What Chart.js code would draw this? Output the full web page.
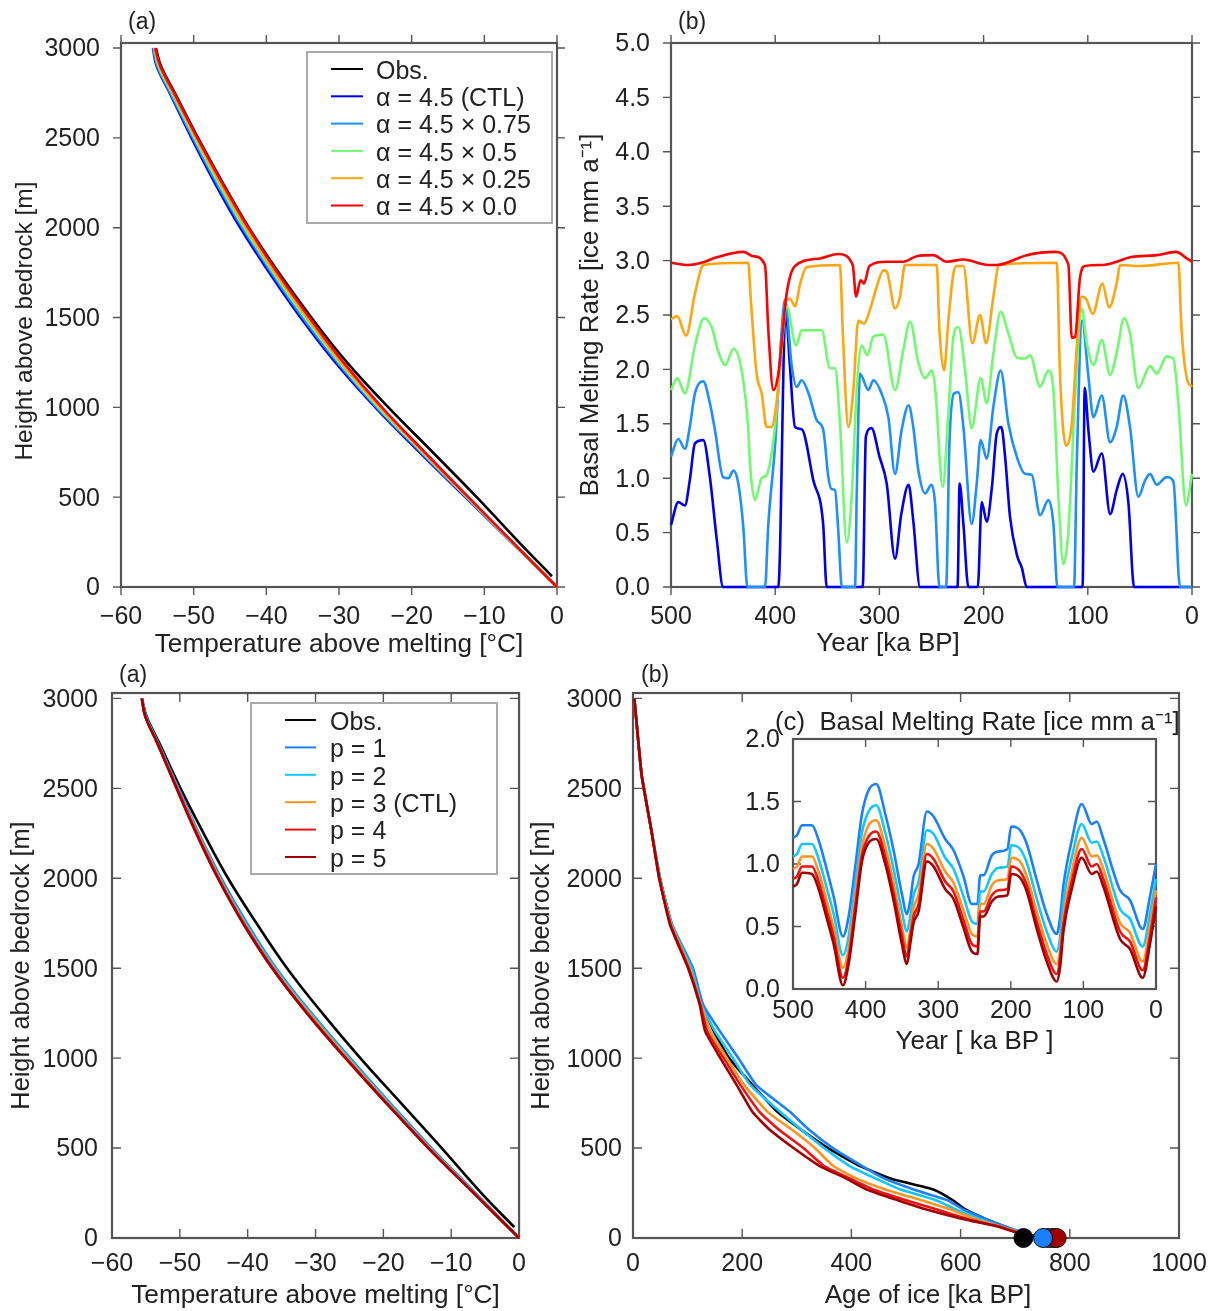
<!DOCTYPE html>
<html>
<head>
<meta charset="utf-8">
<title>Basal melting sensitivity</title>
<script src="https://cdn.jsdelivr.net/npm/chart.js@4"></script>
<style>
  html, body { margin: 0; background: #fff; overflow: hidden; }
  #page { position: relative; width: 1208px; height: 1311px; overflow: hidden; }
  canvas { position: absolute; }
</style>
</head>
<body>
<div id="page"></div>
<script>
// tick values
const tempTicks = [-60, -50, -40, -30, -20, -10, 0];
const heightTicks = [0, 500, 1000, 1500, 2000, 2500, 3000];
const yearTicks = [500, 400, 300, 200, 100, 0];
const rateTicks = [0, 0.5, 1, 1.5, 2, 2.5, 3, 3.5, 4, 4.5, 5];
const insetRateTicks = [0, 0.5, 1, 1.5, 2];
const ageTicks = [0, 200, 400, 600, 800, 1000];

// top left panel: temperature profiles
const heightsA = [0, 250, 500, 750, 1000, 1250, 1500, 1750, 2000, 2250, 2500, 2750, 2900, 3000];
const obsHeights = [60, 250, 500, 750, 1000, 1250, 1500, 1750, 2000, 2250, 2500, 2750, 2900, 3000];
const obsTempA = [-0.7, -5.25, -11.05, -17.1, -23.2, -28.9, -33.8, -38.3, -42.4, -46.0, -49.4, -52.6, -54.5, -55.2];
const tempCtl = [0, -6.3, -12.6, -18.9, -25.0, -30.5, -35.3, -39.6, -43.6, -47.1, -50.3, -53.3, -55.1, -55.6];
const temp075 = [0, -6.25, -12.5, -18.7, -24.8, -30.2, -35.0, -39.3, -43.3, -46.85, -50.1, -53.2, -55.0, -55.55];
const temp050 = [0, -6.2, -12.4, -18.55, -24.6, -29.95, -34.7, -39.05, -43.05, -46.6, -49.9, -53.0, -54.85, -55.45];
const temp025 = [0, -6.15, -12.3, -18.4, -24.35, -29.7, -34.4, -38.8, -42.8, -46.35, -49.7, -52.85, -54.7, -55.4];
const temp000 = [0, -6.1, -12.2, -18.2, -24.1, -29.4, -34.1, -38.5, -42.5, -46.1, -49.5, -52.7, -54.6, -55.3];

const ctlYears = [500, 493, 486.6, 482, 477, 469, 462.7, 456, 450, 397, 390, 386, 381, 374.6, 363.4, 354, 350.6, 316, 313, 307.6, 300, 293, 285, 279, 272, 267.5, 261, 225, 223, 219.4, 214.6, 205.6, 201.8, 197, 192, 187.4, 183, 179.4, 174.6, 167.6, 163.4, 158.6, 105, 103, 99.4, 94.6, 86.6, 78.6, 72.3, 66.5, 61, 55.6, 0];
const ctlRates = [0.57, 0.78, 0.75, 0.98, 1.32, 1.35, 1.01, 0.43, 0, 0, 2.55, 2.05, 1.47, 1.45, 0.98, 0.58, 0, 0, 1.38, 1.46, 1.2, 0.95, 0.26, 0.67, 0.94, 0.61, 0, 0, 0.95, 0.58, 0, 0, 0.78, 0.6, 0.92, 1.41, 1.47, 1.2, 0.64, 0.28, 0.18, 0, 0, 1.83, 1.44, 1.06, 1.23, 0.67, 0.89, 1.04, 0.77, 0, 0];

const a75Years = [500, 493, 486.6, 482, 477, 469, 462.7, 457.8, 450, 445, 440, 435.4, 430.6, 426.7, 409.8, 406.6, 400, 393.8, 390.6, 384, 379.4, 374.6, 368, 360, 353.8, 349, 346, 342.6, 339.5, 336, 323.4, 321.8, 318.6, 310.6, 305.8, 298, 291.4, 285, 278.7, 272, 267.5, 262.6, 256.2, 250, 246.6, 242.4, 236, 232.8, 228.4, 224.2, 219.4, 211.4, 206.6, 202.8, 197, 190.6, 183.6, 176.2, 167.6, 160.2, 153.8, 145.8, 137.8, 133, 129.2, 113.2, 110.6, 105.5, 99.4, 94.6, 86.6, 78.6, 72.3, 66, 59.5, 51.5, 45, 40.3, 33.9, 24.3, 17.9, 11.5, 0];
const a75Rates = [1.2, 1.36, 1.27, 1.47, 1.78, 1.89, 1.69, 1.44, 1.01, 1.0, 1.07, 0.95, 0.55, 0, 0, 0.58, 1.32, 2.36, 2.64, 2.02, 1.84, 1.9, 1.78, 1.53, 1.44, 1.01, 0.9, 0.89, 0.52, 0, 0, 0.83, 1.96, 1.81, 1.9, 1.78, 1.56, 1.04, 1.44, 1.67, 1.47, 1.07, 0.86, 0.94, 0.77, 0, 0, 1.32, 1.78, 1.79, 1.47, 0.58, 0.95, 1.35, 1.18, 1.66, 1.99, 1.5, 1.18, 1.04, 1.03, 0.66, 0.8, 0.58, 0, 0, 1.13, 2.45, 1.93, 1.56, 1.76, 1.33, 1.47, 1.76, 1.47, 0.83, 0.98, 1.04, 0.94, 1.01, 0.97, 0, 0];

const a50Years = [500, 494, 486.6, 477, 468.3, 461, 454.5, 448, 440, 432.2, 425.8, 424.2, 419.4, 413, 408.2, 400.2, 393.8, 389, 380, 374.6, 355.4, 347.4, 342.6, 337.8, 331.4, 326.6, 321.8, 317, 311.6, 305.8, 296.2, 285, 277, 270.6, 262.6, 256.2, 249.8, 246.6, 239.2, 233.8, 229, 224.2, 217.8, 211.4, 202.8, 197, 190.6, 183.6, 176.2, 168.2, 160.2, 155.4, 145.8, 137.8, 133, 128.2, 123.4, 118.6, 112.2, 105.8, 101, 94.6, 86.6, 78.6, 72.3, 65.2, 59.5, 51.5, 40.3, 33.9, 24.3, 17.9, 13.1, 5.7, 0];
const a50Rates = [1.81, 1.92, 1.78, 2.22, 2.47, 2.39, 2.16, 2.04, 2.19, 1.99, 1.44, 1.13, 0.8, 1.0, 1.03, 1.47, 2.2, 2.58, 2.22, 2.36, 2.36, 2.01, 2.01, 1.5, 0.41, 0.83, 1.81, 2.22, 2.13, 2.3, 2.32, 1.81, 2.18, 2.44, 2.06, 1.92, 1.99, 1.84, 0.92, 1.6, 2.3, 2.39, 1.99, 1.46, 1.92, 1.69, 2.15, 2.53, 2.33, 2.11, 2.1, 2.13, 1.84, 1.99, 1.81, 0.83, 0.21, 0.52, 1.75, 2.56, 2.24, 2.04, 2.27, 1.95, 2.15, 2.47, 2.33, 1.83, 2.03, 1.96, 2.12, 2.1, 1.69, 0.75, 1.04];

const a25Years = [500, 494, 485.6, 477, 470.6, 469, 425.8, 423.6, 417.8, 413, 408.2, 403.4, 397, 389.6, 385.8, 381, 376, 369.8, 337.8, 335.2, 329.8, 325, 320.2, 314.8, 309, 302.6, 296.2, 293, 285, 280.2, 275.4, 245, 242.4, 238, 233.8, 229, 225.8, 219.4, 210.8, 203.4, 197.6, 190.6, 185.2, 129.8, 126.6, 120.8, 115.4, 110.6, 105.8, 101.7, 95.3, 86, 79.6, 72.3, 69, 50, 13.1, 10, 5, 0];
const a25Rates = [2.46, 2.49, 2.31, 2.7, 2.94, 2.96, 2.98, 2.67, 1.96, 1.78, 1.47, 1.47, 1.84, 2.64, 2.65, 2.58, 2.79, 2.94, 2.96, 2.36, 1.47, 1.81, 2.45, 2.42, 2.55, 2.76, 2.91, 2.9, 2.56, 2.67, 2.96, 2.96, 2.36, 1.99, 2.45, 2.88, 2.95, 2.95, 2.24, 2.5, 2.24, 2.67, 2.96, 2.98, 1.93, 1.3, 1.5, 2.2, 2.67, 2.65, 2.51, 2.79, 2.57, 2.79, 2.96, 2.95, 2.98, 2.36, 1.92, 1.84];

const a0Years = [500, 483.4, 470.6, 456.2, 430.6, 421, 409.8, 406.6, 401.8, 397, 389, 381, 357, 339.4, 325.6, 322.4, 318, 314.8, 309.6, 293, 277, 264.2, 248.2, 235.4, 219.4, 195.4, 187.4, 158.6, 131.4, 118.6, 115.4, 112.2, 107.4, 102.6, 85, 72.3, 59.5, 33.9, 15.3, 5, 0];
const a0Rates = [2.98, 2.96, 2.98, 3.03, 3.08, 3.04, 2.96, 2.36, 1.81, 1.96, 2.7, 2.95, 3.02, 3.06, 2.96, 2.67, 2.82, 2.79, 2.95, 2.99, 2.99, 3.04, 3.05, 2.99, 3.01, 2.96, 2.96, 3.05, 3.08, 2.96, 2.29, 2.3, 2.85, 2.95, 2.96, 2.99, 3.03, 3.05, 3.08, 3.02, 2.99];

// bottom left panel: temperature profiles for exponent p
const heightsC = [0, 250, 500, 750, 1000, 1250, 1500, 1750, 2000, 2250, 2500, 2750, 2900, 3000];
const obsTempC = [-0.7, -5.55, -11.4, -17.4, -23.4, -29.0, -34.2, -38.7, -42.9, -46.5, -49.9, -53.0, -54.9, -55.6];
const tempP1 = [0, -6.4, -12.9, -19.0, -24.9, -30.6, -35.8, -40.1, -43.9, -47.2, -50.2, -53.2, -55.0, -55.6];
const tempP2 = [0, -6.5, -13.1, -19.2, -25.1, -30.8, -36.0, -40.3, -44.1, -47.3, -50.3, -53.2, -55.0, -55.6];
const tempP3 = [0, -6.6, -13.2, -19.4, -25.3, -31.0, -36.2, -40.5, -44.2, -47.4, -50.4, -53.3, -55.1, -55.6];
const tempP4 = [0, -6.65, -13.3, -19.5, -25.5, -31.2, -36.3, -40.6, -44.3, -47.5, -50.4, -53.3, -55.1, -55.6];
const tempP5 = [0, -6.7, -13.4, -19.6, -25.6, -31.3, -36.4, -40.7, -44.4, -47.6, -50.5, -53.3, -55.1, -55.6];

// bottom right panel: age of ice against height
const heightsD = [3000, 2800, 2570, 2260, 2000, 1740, 1500, 1300, 1150, 1000, 850, 700, 600, 500, 400, 330, 270, 210, 160, 100, 65, 20, 0];
const obsAge = [2.4, 8.5, 16, 34, 49.5, 71, 106, 127, 148, 176, 219, 265, 309, 357, 416, 473, 550, 586, 608, 650, 680, 712, 715];
const ageP1 = [2.4, 8.5, 16, 34, 49.5, 72, 110, 128, 159, 193, 226, 288, 323, 366, 420, 461, 514, 576, 604, 650, 680, 725, 751];
const ageP2 = [2.4, 8.5, 16, 34, 49, 71, 107, 125, 150, 183, 215, 270, 309, 350, 397, 445, 490, 555, 590, 640, 672, 722, 760];
const ageP3 = [2.4, 8.5, 16, 34, 48.5, 70, 104, 124, 142, 172, 204, 247, 292, 333, 367, 410, 462, 528, 580, 632, 672, 720, 768];
const ageP4 = [2.4, 8.5, 16, 34, 48, 69, 102, 123, 136, 166, 197, 232, 268, 312, 350, 398, 440, 500, 555, 620, 669, 717, 772];
const ageP5 = [2.4, 8.5, 16, 34, 48, 68, 101, 122, 132, 160, 190, 219, 251, 294, 342, 391, 428, 485, 536, 612, 666, 715, 776];

// inset: basal melting for exponent p
const insetYears = [500, 494.5, 487.6, 473.9, 464.7, 453.2, 444, 431.2, 423.4, 414.2, 405, 395.9, 385.3, 372.9, 361.5, 350, 343.1, 338.5, 333.9, 327, 315.6, 306.4, 290.4, 278.9, 265.1, 253.7, 245.9, 242.2, 237.6, 226.1, 217, 204.6, 199.5, 187.2, 178, 164.2, 150.5, 136.7, 132, 127.5, 116, 102.3, 88.5, 81.6, 72.5, 49.5, 35.8, 18.3, 8.3, 0];
const meltP1 = [1.21, 1.23, 1.31, 1.31, 1.19, 0.95, 0.74, 0.42, 0.58, 0.98, 1.40, 1.59, 1.64, 1.40, 1.11, 0.76, 0.60, 0.71, 0.90, 1.0, 1.42, 1.38, 1.2, 1.11, 0.90, 0.68, 0.68, 0.91, 0.91, 1.07, 1.10, 1.12, 1.30, 1.27, 1.16, 0.87, 0.60, 0.44, 0.58, 0.83, 1.19, 1.48, 1.32, 1.34, 1.2, 0.79, 0.71, 0.48, 0.74, 1.0];
const meltP2 = [1.06, 1.08, 1.16, 1.16, 1.04, 0.80, 0.60, 0.27, 0.42, 0.84, 1.25, 1.42, 1.47, 1.25, 0.96, 0.62, 0.46, 0.58, 0.75, 0.86, 1.27, 1.24, 1.05, 0.96, 0.74, 0.54, 0.52, 0.78, 0.78, 0.92, 0.97, 0.98, 1.15, 1.12, 1.01, 0.72, 0.46, 0.30, 0.42, 0.70, 1.05, 1.32, 1.17, 1.18, 1.06, 0.64, 0.56, 0.34, 0.6, 0.88];
const meltP3 = [0.96, 0.98, 1.06, 1.06, 0.94, 0.70, 0.49, 0.17, 0.32, 0.74, 1.14, 1.31, 1.35, 1.14, 0.85, 0.50, 0.33, 0.47, 0.65, 0.76, 1.16, 1.12, 0.94, 0.85, 0.63, 0.44, 0.42, 0.68, 0.68, 0.83, 0.87, 0.88, 1.05, 1.02, 0.9, 0.62, 0.36, 0.2, 0.32, 0.58, 0.94, 1.21, 1.06, 1.07, 0.96, 0.53, 0.45, 0.22, 0.5, 0.79];
const meltP4 = [0.88, 0.90, 0.98, 0.98, 0.86, 0.62, 0.42, 0.09, 0.25, 0.66, 1.07, 1.22, 1.26, 1.06, 0.77, 0.43, 0.26, 0.42, 0.58, 0.68, 1.08, 1.04, 0.86, 0.78, 0.55, 0.36, 0.34, 0.62, 0.62, 0.75, 0.79, 0.80, 0.98, 0.94, 0.83, 0.54, 0.28, 0.12, 0.25, 0.52, 0.86, 1.12, 0.98, 1.0, 0.88, 0.46, 0.38, 0.15, 0.42, 0.73];
const meltP5 = [0.82, 0.84, 0.93, 0.92, 0.80, 0.56, 0.36, 0.03, 0.2, 0.6, 1.02, 1.17, 1.2, 1.0, 0.71, 0.36, 0.2, 0.36, 0.53, 0.62, 1.02, 0.98, 0.8, 0.72, 0.49, 0.3, 0.28, 0.58, 0.58, 0.7, 0.74, 0.75, 0.92, 0.89, 0.78, 0.48, 0.22, 0.06, 0.18, 0.46, 0.8, 1.05, 0.92, 0.94, 0.82, 0.4, 0.32, 0.09, 0.36, 0.66];

const alphaLabels = ['Obs.', 'α = 4.5 (CTL)', 'α = 4.5 × 0.75', 'α = 4.5 × 0.5', 'α = 4.5 × 0.25', 'α = 4.5 × 0.0'];
const alphaColors = ['#000000', '#0000f0', '#1e8fff', '#70fa70', '#ffa510', '#ff0000'];
const expLabels = ['Obs.', 'p = 1', 'p = 2', 'p = 3 (CTL)', 'p = 4', 'p = 5'];
const expColors = ['#000000', '#1a80ff', '#10c8ff', '#ff9420', '#f51010', '#a00000'];

Chart.defaults.font.family = '"Liberation Sans", Arial, sans-serif';
Chart.defaults.font.size = 25;
Chart.defaults.color = '#222';
Chart.defaults.animation = false;

// smooth profile: tension, time series: monotone so the zero runs stay flat
const line = (label, color, xs, ys, opts) => Object.assign({
    label: label,
    data: xs.map((x, i) => ({ x: x, y: ys[i] })),
    borderColor: color,
    backgroundColor: color,
    borderWidth: 2.6,
    showLine: true,
    pointRadius: 0,
    clip: false
}, opts);
const curve = { tension: 0.4 };
const bent = { tension: 0.15 };
const series = { cubicInterpolationMode: 'monotone' };

// end of each age curve, shown as a dot on the zero line
const dot = (color, x) => ({
    data: [{ x: x, y: 0 }],
    backgroundColor: color,
    borderColor: '#111',
    borderWidth: 1,
    pointRadius: 9.5,
    showLine: false,
    clip: false
});

// frame, tick marks, free text and boxed legend
const framePlugin = {
    id: 'frame',
    beforeDatasetsDraw(chart, args, opts) {
        const { ctx, chartArea: a, scales: { x, y } } = chart;
        const t = opts.tick;
        ctx.save();
        ctx.strokeStyle = '#555';
        ctx.lineWidth = 2.2;
        ctx.strokeRect(a.left, a.top, a.right - a.left, a.bottom - a.top);
        ctx.lineWidth = 1.4;
        ctx.beginPath();
        x.ticks.forEach(k => {
            const px = x.getPixelForValue(k.value);
            ctx.moveTo(px, a.bottom); ctx.lineTo(px, a.bottom + t);
            ctx.moveTo(px, a.top); ctx.lineTo(px, a.top - t);
        });
        y.ticks.forEach(k => {
            const py = y.getPixelForValue(k.value);
            ctx.moveTo(a.left, py); ctx.lineTo(a.left - t, py);
            ctx.moveTo(a.right, py); ctx.lineTo(a.right + t, py);
        });
        ctx.stroke();
        ctx.restore();
    },
    afterDraw(chart, args, opts) {
        const { ctx } = chart;
        const page = document.getElementById('page').getBoundingClientRect();
        const r = chart.canvas.getBoundingClientRect();
        const dx = r.left - page.left, dy = r.top - page.top;
        ctx.save();
        ctx.textBaseline = 'middle';
        ctx.fillStyle = '#222';
        (opts.notes || []).forEach(n => {
            ctx.save();
            ctx.font = n.size + 'px "Liberation Sans"';
            ctx.textAlign = n.align || 'left';
            ctx.translate(n.x - dx, n.y - dy);
            if (n.upright) ctx.rotate(-Math.PI / 2);
            ctx.fillText(n.text, 0, 0);
            ctx.restore();
        });
        const b = opts.box;
        if (b) {
            const ox = b.x - dx, oy = b.y - dy;
            ctx.fillStyle = '#fff';
            ctx.fillRect(ox, oy, b.w, b.h);
            ctx.strokeStyle = '#aaa';
            ctx.lineWidth = 2;
            ctx.strokeRect(ox, oy, b.w, b.h);
            ctx.font = '25px "Liberation Sans"';
            chart.data.datasets.forEach((ds, i) => {
                const ly = oy + b.first + i * b.step;
                ctx.strokeStyle = ds.borderColor;
                ctx.lineWidth = 2;
                ctx.beginPath();
                ctx.moveTo(ox + b.lineFrom, ly);
                ctx.lineTo(ox + b.lineTo, ly);
                ctx.stroke();
                ctx.fillStyle = '#222';
                ctx.fillText(ds.label, ox + b.textX, ly + 3);
            });
        }
        ctx.restore();
    }
};

const minusTick = v => (v < 0 ? '−' + Math.abs(v) : String(v));
const oneDecimal = v => v.toFixed(1);

function addPanel(cfg) {
    const canvas = document.createElement('canvas');
    canvas.width = cfg.w;
    canvas.height = cfg.h;
    canvas.style.left = cfg.left + 'px';
    canvas.style.top = cfg.top + 'px';
    document.getElementById('page').appendChild(canvas);
    // chart.js paints the first dataset last, so flip it: later series go on top
    cfg.datasets.forEach((ds, i) => { ds.order = cfg.datasets.length - i; });
    new Chart(canvas, {
        type: 'scatter',
        data: { datasets: cfg.datasets },
        options: {
            responsive: false,
            devicePixelRatio: 1,
            layout: { padding: { top: cfg.padTop, right: cfg.padRight, left: 0, bottom: 0 } },
            plugins: {
                legend: { display: false },
                tooltip: { enabled: false },
                frame: { tick: cfg.tick, notes: cfg.notes, box: cfg.box }
            },
            scales: {
                x: {
                    type: 'linear',
                    min: cfg.xMin, max: cfg.xMax, reverse: !!cfg.xReverse,
                    grid: { display: false, drawTicks: false },
                    border: { display: false },
                    afterBuildTicks: s => { s.ticks = cfg.xTicks.map(v => ({ value: v })); },
                    ticks: { padding: cfg.xPad, maxRotation: 0, autoSkip: false, callback: minusTick },
                    title: { display: !!cfg.xTitle, text: cfg.xTitle, padding: 0, font: { size: cfg.xTitleSize } },
                    afterFit: s => { s.height = cfg.axisH; }
                },
                y: {
                    type: 'linear',
                    min: 0, max: cfg.yMax,
                    grid: { display: false, drawTicks: false },
                    border: { display: false },
                    afterBuildTicks: s => { s.ticks = cfg.yTicks.map(v => ({ value: v })); },
                    ticks: { padding: cfg.yPad, autoSkip: false, labelOffset: 1.5, callback: cfg.yFormat || minusTick },
                    title: { display: !!cfg.yTitle, text: cfg.yTitle, padding: 0, font: { size: cfg.yTitleSize } },
                    afterFit: s => { s.width = cfg.axisW; }
                }
            }
        },
        plugins: [framePlugin]
    });
}

addPanel({
    left: 11, top: 3, w: 570, h: 657, axisW: 110, axisH: 73, padTop: 40, padRight: 24,
    tick: 8, xMin: -60, xMax: 0, xTicks: tempTicks, xPad: 15, yMax: 3028, yTicks: heightTicks, yPad: 21,
    xTitle: 'Temperature above melting [°C]', xTitleSize: 26.2,
    notes: [
        { text: '(a)', x: 128, y: 23, size: 23 },
        { text: 'Height above bedrock [m]', x: 25, y: 321, size: 24.5, align: 'center', upright: true }
    ],
    box: { x: 307, y: 52, w: 245, h: 171, first: 17, step: 27.3, lineFrom: 24, lineTo: 56, textX: 69 },
    datasets: [
        line(alphaLabels[0], alphaColors[0], obsTempA, obsHeights, curve),
        line(alphaLabels[1], alphaColors[1], tempCtl, heightsA, curve),
        line(alphaLabels[2], alphaColors[2], temp075, heightsA, curve),
        line(alphaLabels[3], alphaColors[3], temp050, heightsA, curve),
        line(alphaLabels[4], alphaColors[4], temp025, heightsA, curve),
        line(alphaLabels[5], alphaColors[5], temp000, heightsA, curve)
    ]
});

addPanel({
    left: 575, top: 3, w: 647, h: 657, axisW: 96, axisH: 73, padTop: 40, padRight: 30,
    tick: 8, xMin: 0, xMax: 500, xReverse: true, xTicks: yearTicks, xPad: 15, yMax: 5, yTicks: rateTicks, yPad: 21,
    yFormat: oneDecimal,
    yTitle: 'Basal Melting Rate [ice mm a⁻¹]', yTitleSize: 26,
    notes: [
        { text: '(b)', x: 678, y: 23, size: 23 },
        { text: 'Year [ka BP]', x: 888, y: 644, size: 26, align: 'center' }
    ],
    datasets: [
        line(alphaLabels[1], alphaColors[1], ctlYears, ctlRates, series),
        line(alphaLabels[2], alphaColors[2], a75Years, a75Rates, series),
        line(alphaLabels[3], alphaColors[3], a50Years, a50Rates, series),
        line(alphaLabels[4], alphaColors[4], a25Years, a25Rates, series),
        line(alphaLabels[5], alphaColors[5], a0Years, a0Rates, series)
    ]
});

addPanel({
    left: 7, top: 663, w: 530, h: 648, axisW: 105, axisH: 73, padTop: 30, padRight: 17,
    tick: -9, xMin: -60, xMax: 0, xTicks: tempTicks, xPad: 11, yMax: 3030, yTicks: heightTicks, yPad: 14,
    xTitle: 'Temperature above melting [°C]', xTitleSize: 26.2, yTitle: 'Height above bedrock [m]', yTitleSize: 25.3,
    notes: [{ text: '(a)', x: 119, y: 676, size: 23 }],
    box: { x: 251, y: 703, w: 246, h: 171, first: 17, step: 27.4, lineFrom: 34, lineTo: 65, textX: 79 },
    datasets: [
        line(expLabels[0], expColors[0], obsTempC, obsHeights, curve),
        line(expLabels[1], expColors[1], tempP1, heightsC, curve),
        line(expLabels[2], expColors[2], tempP2, heightsC, curve),
        line(expLabels[3], expColors[3], tempP3, heightsC, curve),
        line(expLabels[4], expColors[4], tempP4, heightsC, curve),
        line(expLabels[5], expColors[5], tempP5, heightsC, curve)
    ]
});

addPanel({
    left: 527, top: 663, w: 691, h: 648, axisW: 106, axisH: 73, padTop: 30, padRight: 39,
    tick: -9, xMin: 0, xMax: 1000, xTicks: ageTicks, xPad: 11, yMax: 3030, yTicks: heightTicks, yPad: 11,
    yTitle: 'Height above bedrock [m]', yTitleSize: 25.3,
    notes: [
        { text: '(b)', x: 641, y: 676, size: 23 },
        { text: 'Age of ice [ka BP]', x: 928, y: 1296, size: 26, align: 'center' }
    ],
    datasets: [
        line(expLabels[0], expColors[0], obsAge, heightsD, bent),
        line(expLabels[1], expColors[1], ageP1, heightsD, bent),
        line(expLabels[2], expColors[2], ageP2, heightsD, bent),
        line(expLabels[3], expColors[3], ageP3, heightsD, bent),
        line(expLabels[4], expColors[4], ageP4, heightsD, bent),
        line(expLabels[5], expColors[5], ageP5, heightsD, bent),
        dot(expColors[2], ageP2[ageP2.length - 1]),
        dot(expColors[3], ageP3[ageP3.length - 1]),
        dot(expColors[4], ageP4[ageP4.length - 1]),
        dot(expColors[5], ageP5[ageP5.length - 1]),
        dot(expColors[1], ageP1[ageP1.length - 1]),
        dot(expColors[0], obsAge[obsAge.length - 1])
    ]
});

addPanel({
    left: 740, top: 700, w: 468, h: 357, axisW: 53, axisH: 68, padTop: 39, padRight: 52,
    tick: -8, xMin: 0, xMax: 500, xReverse: true, xTicks: yearTicks, xPad: 7, yMax: 2, yTicks: insetRateTicks, yPad: 13,
    yFormat: oneDecimal,
    xTitle: 'Year [ ka BP ]', xTitleSize: 26,
    notes: [{ text: '(c)  Basal Melting Rate [ice mm a⁻¹]', x: 775, y: 723, size: 25.8 }],
    datasets: [
        line(expLabels[1], expColors[1], insetYears, meltP1, series),
        line(expLabels[2], expColors[2], insetYears, meltP2, series),
        line(expLabels[3], expColors[3], insetYears, meltP3, series),
        line(expLabels[4], expColors[4], insetYears, meltP4, series),
        line(expLabels[5], expColors[5], insetYears, meltP5, series)
    ]
});
</script>
</body>
</html>
